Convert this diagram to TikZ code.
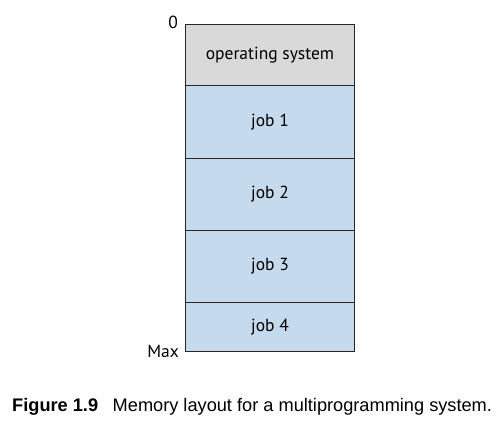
\documentclass[tikz,border=0pt]{standalone}
\usepackage{fontspec}
\setmainfont{PT Sans}
\newfontfamily\capfont{Liberation Sans}
\definecolor{osgray}{HTML}{D9D9D9}
\definecolor{jobblue}{HTML}{C6DAEE}
\begin{document}
\begin{tikzpicture}[x=1pt,y=-1pt,
  seg/.style={draw=black!85,line width=0.9pt,minimum width=169pt,inner sep=0pt,font=\fontsize{17.5}{20}\selectfont,anchor=north west},
  edge/.style={font=\fontsize{17.5}{20}\selectfont,anchor=east,inner sep=0pt}]
\useasboundingbox (0,0) rectangle (502,433);
\node[seg,fill=osgray,minimum height=61pt] (os) at (185,24) {operating system};
\node[seg,fill=jobblue,minimum height=73pt] (j1) at (185,85) {job 1};
\node[seg,fill=jobblue,minimum height=72pt] (j2) at (185,158) {job 2};
\node[seg,fill=jobblue,minimum height=72pt] (j3) at (185,230) {job 3};
\node[seg,fill=jobblue,minimum height=49pt] (j4) at (185,302) {job 4};
\node[edge,anchor=base east] (zero) at (178,29) {0};
\node[edge,anchor=base east] (max) at (179,357) {Max};
\node[anchor=base west,inner sep=0pt,font=\capfont\fontsize{18.2}{21}\selectfont] (cap) at (12,411) {\textbf{Figure 1.9}\hspace{0.8em}Memory layout for a multiprogramming system.};
\end{tikzpicture}
\end{document}
